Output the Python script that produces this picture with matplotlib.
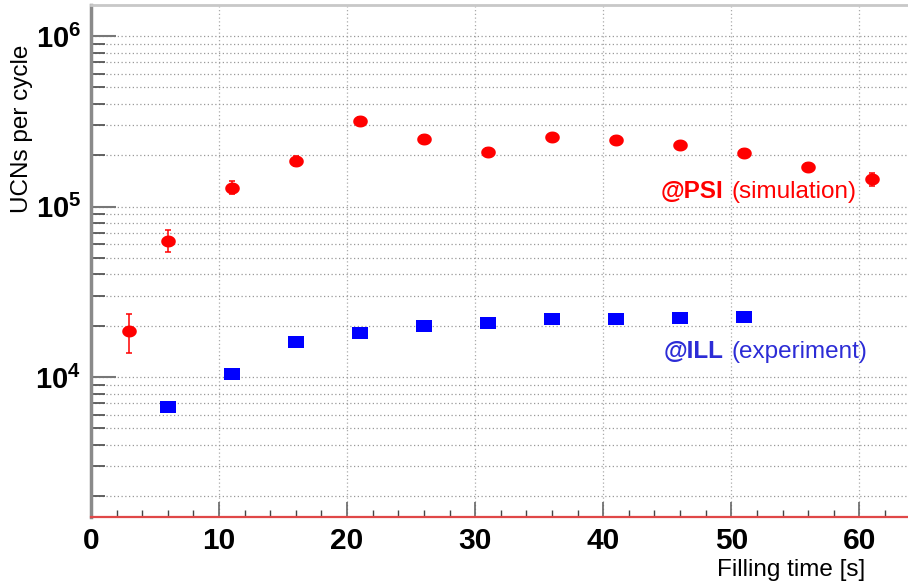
import numpy as np
import matplotlib
matplotlib.use("Agg")
import matplotlib.pyplot as plt
from matplotlib.ticker import LogLocator, NullFormatter, MultipleLocator

plt.rcParams['font.family'] = ['Liberation Sans', 'DejaVu Sans']
plt.rcParams['mathtext.fontset'] = 'custom'
plt.rcParams['mathtext.rm'] = 'Liberation Sans:bold'
plt.rcParams['mathtext.bf'] = 'Liberation Sans:bold'

# dane
t_psi = [3, 6, 11, 16, 21, 26, 31, 36, 41, 46, 51, 56, 61]
ucn_psi = [18700, 62700, 128800, 185000, 318000, 250000, 209000,
           255000, 245000, 228000, 206000, 171000, 145000]
err_psi_lo = [4900, 8700, 10800, 12000, 15000, 12000, 10000,
              12000, 12000, 11000, 10000, 9000, 13000]
err_psi_hi = [4700, 10000, 12200, 13000, 16000, 13000, 11000,
              13000, 13000, 12000, 11000, 10000, 13000]

t_ill = [6, 11, 16, 21, 26, 31, 36, 41, 46, 51]
ucn_ill = [6700, 10370, 16000, 18100, 19900, 20700, 21900, 22000, 22100, 22500]

y_ticks = [1e4, 1e5, 1e6]
y_labels = [r'$\mathbf{10^{4}}$', r'$\mathbf{10^{5}}$', r'$\mathbf{10^{6}}$']
x_ticks = [0, 10, 20, 30, 40, 50, 60]

fig = plt.figure(figsize=(9.08, 5.86), dpi=100)
ax = fig.add_axes([0.1002, 0.1177, 0.8998, 0.8738])

# markery: elipsa (ROOT) i prostokat
ang = np.linspace(0, 2 * np.pi, 40)
ellipse = list(zip(np.cos(ang), 0.82 * np.sin(ang)))
rect = [(-1, -0.75), (1, -0.75), (1, 0.75), (-1, 0.75), (-1, -0.75)]

ax.errorbar(t_psi, ucn_psi, yerr=[err_psi_lo, err_psi_hi], fmt='none',
            ecolor='red', elinewidth=1.1, capsize=2, capthick=1.1, zorder=3)
ax.plot(t_psi, ucn_psi, linestyle='none', marker=ellipse, markersize=10.5,
        color='red', markeredgewidth=0, zorder=4)
ax.plot(t_ill, ucn_ill, linestyle='none', marker=rect, markersize=11,
        color='blue', markeredgewidth=0, zorder=4)

ax.set_yscale('log')
ax.set_xlim(0, 63.8)
ax.set_ylim(1510, 1.52e6)

ax.set_yticks(y_ticks)
ax.set_yticklabels(y_labels, fontsize=21)
ax.yaxis.set_minor_locator(LogLocator(base=10, subs=np.arange(2, 10)))
ax.yaxis.set_minor_formatter(NullFormatter())
ax.set_xticks(x_ticks)
ax.set_xticklabels([str(v) for v in x_ticks], fontsize=21.5, fontweight='bold')
ax.xaxis.set_minor_locator(MultipleLocator(2))

ax.tick_params(axis='y', which='major', direction='in', length=18, width=1.5,
               color='#777777', pad=7)
ax.tick_params(axis='y', which='minor', direction='in', length=10, width=1.3,
               color='#555555')
ax.tick_params(axis='x', which='major', direction='in', length=10.5, width=1.2,
               color='#666666', pad=7)
ax.tick_params(axis='x', which='minor', direction='in', length=5, width=1.0,
               color='#444444')

# siatka kropkowana
ax.grid(True, which='both', axis='y', color='#999999',
        linestyle=(0, (1, 2)), linewidth=0.9)
ax.grid(True, which='major', axis='x', color='#aaaaaa',
        linestyle=(0, (1, 2)), linewidth=0.9)

ax.spines['left'].set_color('#8a8a8a')
ax.spines['left'].set_linewidth(2.5)
ax.spines['top'].set_color('#c8c8c8')
ax.spines['top'].set_linewidth(2)
ax.spines['bottom'].set_color('#e04848')
ax.spines['bottom'].set_linewidth(1.6)
ax.spines['right'].set_visible(False)

# opisy serii
ax.text(44.45, 122000, '@PSI', color='red', fontsize=17.5, fontweight='bold',
        va='center', ha='left')
ax.text(50.0, 122000, '(simulation)', color='red', fontsize=17.5,
        va='center', ha='left')
ax.text(44.7, 14100, '@ILL', color='#2c2cd6', fontsize=17.5, fontweight='bold',
        va='center', ha='left')
ax.text(50.0, 14100, '(experiment)', color='#2c2cd6', fontsize=17.5,
        va='center', ha='left')

fig.text(865 / 908, 1 - 570 / 586, 'Filling time [s]', fontsize=17.5,
         ha='right', va='center')
fig.text(22 / 908, 1 - 45 / 586, 'UCNs per cycle', fontsize=17.5,
         rotation=90, ha='center', va='top')

fig.savefig('out.png', dpi=100)
